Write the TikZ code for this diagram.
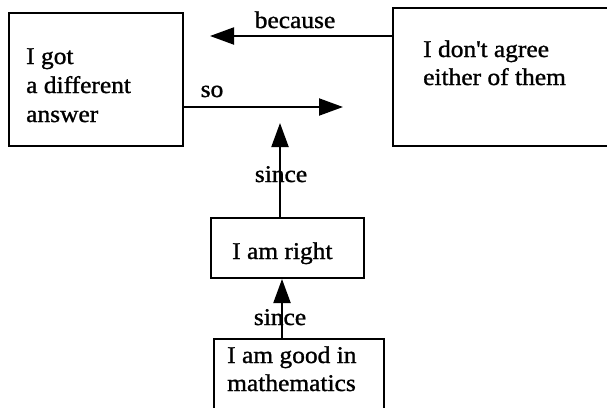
\documentclass[tikz,border=0pt]{standalone}
\usepackage{fontspec}
\setmainfont{Liberation Serif}[FakeStretch=1.06,FakeBold=1.2]
\usetikzlibrary{arrows.meta}
\begin{document}
\begin{tikzpicture}[x=1pt,y=-1pt,
  box/.style={draw, line width=2pt, inner sep=0pt, anchor=north west},
  txt/.style={inner sep=0pt, anchor=base west, font=\fontsize{24}{28.5}\selectfont, align=left},
  lbl/.style={inner sep=0pt, anchor=base, font=\fontsize{24}{28.5}\selectfont},
  arr/.style={line width=2pt, -{Triangle[length=24pt,width=17pt]}}]
\useasboundingbox (0,0) rectangle (607,407);
\clip (0,0) rectangle (607,407);
% boxes
\node[box, minimum width=174pt, minimum height=133pt] (b1) at (8,12) {};
\node[box, minimum width=220pt, minimum height=138pt] (b2) at (392,7) {};
\node[box, minimum width=153pt, minimum height=60pt] (b3) at (210,217) {};
\node[box, minimum width=170pt, minimum height=80pt] (b4) at (213,338) {};
% texts
\node[txt] (x1a) at (26,64) {I got};
\node[txt] (x1b) at (26,93) {a different};
\node[txt] (x1c) at (26,122) {answer};
\node[txt] (x2a) at (423,57) {I don\textquotesingle t agree};
\node[txt] (x2b) at (423,85) {either of them};
\node[txt] (x3) at (232,259) {I am right};
\node[txt] (x4a) at (227,363) {I am good in};
\node[txt] (x4b) at (227,391) {mathematics};
% labels
\node[lbl] (l1) at (295,28) {because};
\node[lbl] (l2) at (212,97) {so};
\node[lbl] (l3) at (281,182) {since};
\node[lbl] (l4) at (280,325) {since};
% connectors
\coordinate (t1) at (210,36);
\coordinate (t2) at (343,107);
\coordinate (t3) at (280,123);
\coordinate (t4) at (282,277);
\draw[arr] (b2.west |- t1) -- (t1);
\draw[arr] (b1.east |- t2) -- (t2);
\draw[arr] (b3.north -| t3) -- (t3);
\draw[arr] (b4.north -| t4) -- (b3.south -| t4);
\end{tikzpicture}
\end{document}
